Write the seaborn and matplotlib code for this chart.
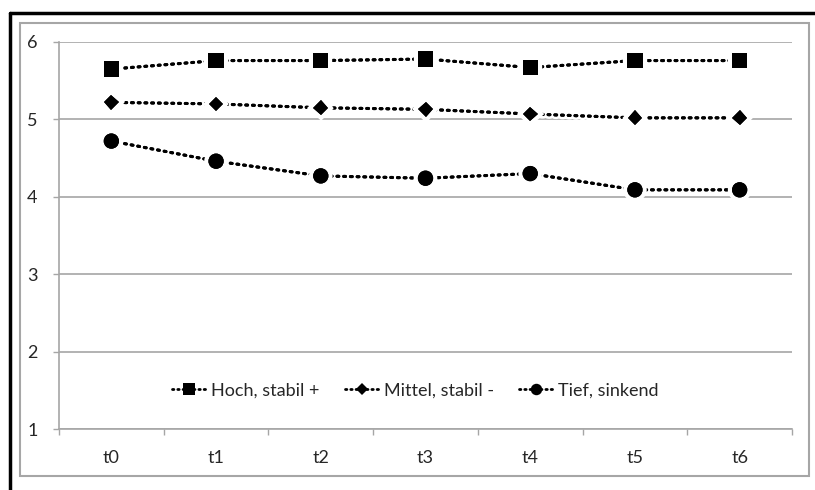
import matplotlib
matplotlib.use("Agg")
import matplotlib.pyplot as plt
import matplotlib.patheffects as pe
from matplotlib.lines import Line2D
from matplotlib.patches import Rectangle
import seaborn as sns

# data
zeitpunkte = ["t0", "t1", "t2", "t3", "t4", "t5", "t6"]
hoch = [5.65, 5.76, 5.76, 5.78, 5.67, 5.76, 5.76]
mittel = [5.22, 5.20, 5.15, 5.13, 5.07, 5.02, 5.02]
tief = [4.72, 4.46, 4.27, 4.24, 4.30, 4.09, 4.09]
serien = ["Hoch, stabil +", "Mittel, stabil -", "Tief, sinkend"]
y_ticks = [1, 2, 3, 4, 5, 6]

sns.set_style("white")
plt.rcParams["font.family"] = ["Lato", "DejaVu Sans"]

fig = plt.figure(figsize=(8.15, 4.9), dpi=100)
W, H = 815, 490
ax = fig.add_axes([59 / W, 1 - 429 / H, (792 - 59) / W, (429 - 42) / H])

grau = "#a6a6a6"
for name, werte, marker, ms in zip(serien, [hoch, mittel, tief], ["s", "D", "o"], [11, 7.5, 11]):
    sns.lineplot(x=list(range(len(zeitpunkte))), y=werte, ax=ax, color="black",
                 linewidth=2.2, linestyle=(0, (0.6, 1.6)), marker=marker,
                 markersize=ms, markeredgewidth=0, dash_capstyle="round",
                 label=name, zorder=3)

for ln in ax.lines:
    ln.set_path_effects([pe.withStroke(linewidth=6, foreground="white"), pe.Normal()])
    ln.set_dash_capstyle("round")

ax.set_xlim(-0.5, len(zeitpunkte) - 0.5)
ax.set_ylim(1, 6)
ax.set_yticks(y_ticks)
ax.set_xticks(range(len(zeitpunkte)))
ax.set_xticklabels(zeitpunkte)
ax.set_xticks([i - 0.5 for i in range(len(zeitpunkte) + 1)], minor=True)
ax.tick_params(axis="x", which="major", length=0, pad=15, labelsize=13)
ax.tick_params(axis="x", which="minor", length=4, width=1, color=grau, direction="out", bottom=True)
ax.tick_params(axis="y", length=4.5, width=1, color=grau, direction="out", left=True, pad=11, labelsize=13)
ax.set_xlabel("")
ax.set_ylabel("")

ax.grid(axis="y", color=grau, linewidth=1.2)
ax.set_axisbelow(True)
for s in ["top", "right"]:
    ax.spines[s].set_visible(False)
for s in ["left", "bottom"]:
    ax.spines[s].set_color(grau)
    ax.spines[s].set_linewidth(1.2)

leg = ax.legend(loc="center", bbox_to_anchor=(0.486, 0.10), ncol=3, frameon=False,
                fontsize=13, handlelength=1.9, columnspacing=1.4, handletextpad=0.25)
for h in leg.legend_handles:
    h.set_path_effects([])
    h.set_linestyle((0, (0.5, 1.4)))
    h.set_linewidth(2.0)
    h.set_markersize(h.get_markersize() * 0.75)

# inner grey frame and black outer border
fig.patches.append(Rectangle((20 / W, 1 - 476 / H), (809 - 20) / W, (476 - 23) / H,
                             transform=fig.transFigure, fill=False, edgecolor=grau, linewidth=1.5))
fig.lines.append(Line2D([10 / W, 1], [1 - 13 / H, 1 - 13 / H], transform=fig.transFigure,
                        color="black", linewidth=2.5))
fig.lines.append(Line2D([10 / W, 10 / W], [0, 1 - 13 / H], transform=fig.transFigure,
                        color="black", linewidth=2.5))

fig.savefig("out.png", dpi=100)
